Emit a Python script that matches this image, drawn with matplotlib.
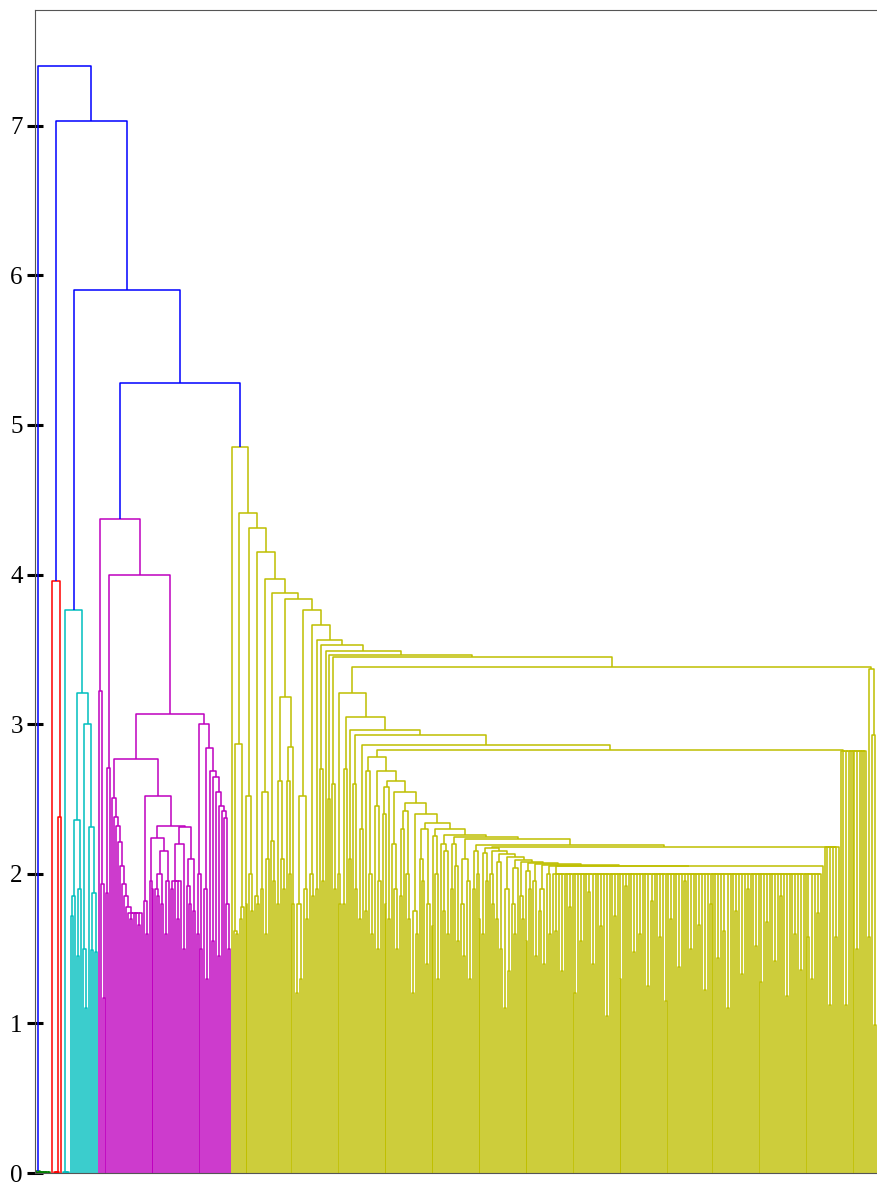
import matplotlib
matplotlib.use("Agg")
import matplotlib.pyplot as plt
from matplotlib.collections import LineCollection

# A node is [height, left, right]; 0 stands for a single leaf.

# links above the colour threshold (drawn blue), top down
root_heights = [7.40, 7.03, 5.90, 5.28]

green_heights = [0.012, 0.010, 0.009, 0.008, 0.007, 0.006, 0.005]

red_tree = [3.96, 0, [2.38, [0.010, [0.008, [0.006, 0, 0], 0], 0], 0]]

cyan_tree = [3.76, [0.010, 0, [0.008, 0, [0.006, 0, 0]]],
             [3.21,
              [2.36, [1.85, [1.72, 0, 0], 0], [1.90, [1.45, 0, 0], 0]],
              [3.00, [1.50, 0, [1.10, 0, 0]],
               [2.31, 0, [1.87, [1.49, 0, 0], [1.48, 0, 0]]]]]]

magenta_stair_heights = [2.51, 2.38, 2.32, 2.21, 2.05, 1.93, 1.85, 1.78]
magenta_comb = [0, 1.70, 0, 0, 1.66, 0]
magenta_right_heights = [3.00, 2.84, 2.69, 2.65, 2.55, 2.45, 2.42, 2.37]
magenta_right_lefts = [[2.0, [1.6, 0, 0], [1.5, 0, 0]], [1.9, 0, [1.3, 0, 0]], 0,
                       [1.55, 0, 0], 0, [1.45, 0, 0], 0, 0]

# yellow: long chain of merges
yellow_spine_heights = [4.85, 4.41, 4.31, 4.15, 3.97, 3.875, 3.835, 3.76,
                        3.66, 3.565, 3.53, 3.49, 3.46, 3.45]
yellow_spine_lefts = [
    0,
    [2.87, [1.62, 0, [1.60, 0, 0]], [1.78, [1.70, 0, 0], 0]],
    [2.52, [1.80, 0, 0], [2.00, 0, [1.75, 0, 0]]],
    [1.85, 0, [1.80, 0, 0]],
    [2.55, [1.90, 0, 0], [2.10, [1.60, 0, 0], 0]],
    [2.22, 0, [1.95, 0, 0]],
    [3.18, [2.62, [1.80, 0, 0], [2.10, 0, [1.90, 0, 0]]],
     [2.85, [2.62, 0, [2.00, 0, 0]], [1.80, 0, 0]]],
    [2.52, [1.80, [1.20, 0, 0], [1.30, 0, 0]], [1.90, 0, [1.70, 0, 0]]],
    [2.00, 0, [1.85, 0, 0]],
    [1.90, 0, 0],
    [2.70, 0, [1.95, 0, 0]],
    0,
    [2.50, 0, 0],
    [2.60, 0, [1.90, 0, 0]],
]
yellow_end = [3.37, [1.58, 0, 0], [2.93, 0, [0.99, 0, 0]]]

a_heights = [3.21, 3.05, 2.96, 2.93, 2.86]
a_lefts = [[2.00, 0, [1.80, 0, 0]], [2.70, [1.80, 0, 0], 0], [2.10, 0, 0],
           [2.60, 0, [1.90, 0, 0]], [2.30, [1.70, 0, 0], 0]]
block_283 = [0, 0, 1.12, 0, 0, 0, 0, 1.50, 0, 0, 0, 0]

b_heights = [2.78, 2.69, 2.62, 2.55, 2.47, 2.40, 2.34, 2.30, 2.26, 2.245, 2.23, 2.19]
b_lefts = [
    [2.69, [1.75, 0, 0], [2.00, 0, [1.60, 0, 0]]],
    [2.45, 0, [1.95, [1.50, 0, 0], 0]],
    [2.58, [2.40, 0, [1.80, 0, 0]], [1.70, 0, 0]],
    [2.20, 0, [1.90, 0, [1.50, 0, 0]]],
    [2.42, [2.30, [1.85, 0, 0], 0], [2.00, 0, [1.70, 0, 0]]],
    [1.75, [1.20, 0, 0], [1.60, 0, 0]],
    [2.30, [2.10, 0, [1.95, 0, 0]], [1.80, [1.40, 0, 0], 0]],
    [2.25, [1.65, 0, 0], [2.00, 0, [1.30, 0, 0]]],
    [2.20, 0, [2.15, [1.75, 0, 0], [1.60, 0, 0]]],
    [2.20, [1.90, 0, 0], [2.05, 0, [1.55, 0, 0]]],
    [2.10, [1.80, 0, [1.45, 0, 0]], [1.95, 0, [1.30, 0, 0]]],
    [2.15, [1.90, 0, 0], [2.00, 0, [1.70, 0, 0]]],
]
block_218 = [0, 0, 1.12, 0, 1.58, 0]

c_heights = [2.17, 2.15, 2.13, 2.11, 2.09, 2.08, 2.07, 2.065, 2.06, 2.055]
c_lefts = [
    [2.14, [1.60, 0, 0], [1.95, 0, 0]],
    [2.00, 0, [1.80, 0, 0]],
    [2.08, [1.70, 0, 0], [1.50, 0, 0]],
    [1.90, [1.10, 0, 0], [1.35, 0, 0]],
    [2.04, [1.80, 0, [1.60, 0, 0]], 0],
    [1.85, 0, [1.70, 0, 0]],
    [2.02, [1.55, 0, 0], [1.90, 0, 0]],
    [1.95, 0, [1.45, 0, 0]],
    [1.90, [1.75, 0, 0], [1.40, 0, 0]],
    [2.00, 0, [1.60, 0, 0]],
]
block_200 = [0, 1.62, 0, 1.35, 0, 0, 1.78, 0, 1.20, 0, 1.55, 0, 0, 1.88, 1.40,
             0, 0, 1.65, 0, 1.05, 0, 0, 1.72, 0, 1.30, 0, 1.92, 0, 0, 1.48,
             0, 1.60, 0, 0, 1.25, 1.82, 0, 0, 1.58, 0, 1.15, 0, 1.70, 0, 0,
             1.38, 0, 1.95, 0, 1.50, 0, 0, 1.66, 0, 1.22, 0, 1.80, 0, 0, 1.44,
             0, 1.62, 1.10, 0, 0, 1.75, 0, 1.33, 0, 1.90, 0, 0, 1.52, 0, 1.28,
             0, 1.68, 0, 0, 1.42, 0, 1.85, 0, 1.18, 0, 0, 1.60, 0, 1.36, 0,
             0, 1.58, 1.30, 0, 1.74, 0]


def part(p):
    return [p, 0, 0] if p > 0 else 0


def rchain(heights, lefts, last):
    node = last
    for h, l in zip(heights[::-1], lefts[::-1]):
        node = [h, l, node]
    return node


def rcomb(top, parts):
    return rchain([top] * (len(parts) - 1), [part(p) for p in parts[:-1]], part(parts[-1]))


def lcomb(top, parts):
    node = part(parts[0])
    for p in parts[1:]:
        node = [top, node, part(p)]
    return node


green_tree = rchain(green_heights, [0] * len(green_heights), 0)

magenta_tree = [4.37,
                [3.22, 0, [1.93, 0, [1.17, 0, 0]]],
                [4.00,
                 [2.71, [1.87, 0, 0], 0],
                 [3.07,
                  [2.77,
                   rchain(magenta_stair_heights, [0] * len(magenta_stair_heights),
                          rcomb(1.74, magenta_comb)),
                   [2.52, [1.82, 0, [1.60, 0, 0]],
                    [2.32,
                     [2.24, [1.95, 0, [1.90, 0, 0]],
                      [2.15, [2.00, [1.90, 0, [1.85, 0, 0]], [1.80, 0, 0]],
                       [1.95, [1.60, 0, 0], 0]]],
                     [2.31, [2.20, rcomb(1.95, [1.9, 0, 1.7, 0]), [1.5, 0, 0]],
                      [2.10, [1.92, 0, [1.8, 0, 0]], [1.75, 0, 0]]]]]],
                  rchain(magenta_right_heights, magenta_right_lefts,
                         [1.8, 0, [1.5, 0, 0]])]]]

chain_c = rchain(c_heights, c_lefts, [2.05, rcomb(2.00, block_200), 0])
chain_b = rchain(b_heights, b_lefts, [2.18, chain_c, lcomb(2.18, block_218)])
chain_a = rchain(a_heights, a_lefts, [2.83, chain_b, rcomb(2.82, block_283)])
yellow_tree = rchain(yellow_spine_heights, yellow_spine_lefts,
                     [3.38, chain_a, yellow_end])

full_tree = rchain(root_heights, [green_tree, red_tree, cyan_tree, magenta_tree], yellow_tree)
cluster_colors = {id(green_tree): 'g', id(red_tree): 'r', id(cyan_tree): 'c',
                  id(magenta_tree): 'm', id(yellow_tree): 'y'}

segments = {}
counter = [0]


def layout(node, color):
    color = cluster_colors.get(id(node), color)
    if node == 0:
        x = 10 * counter[0] + 5
        counter[0] += 1
        return x, 0.0
    h, left, right = node
    xl, hl = layout(left, color)
    xr, hr = layout(right, color)
    segments.setdefault(color, []).append([(xl, hl), (xl, h), (xr, h), (xr, hr)])
    return (xl + xr) / 2, h


layout(full_tree, 'b')
n_leaves = counter[0]

fig = plt.figure(figsize=(8.77, 11.83), dpi=100)
ax = fig.add_axes([35 / 877, 10 / 1183, 842 / 877, 1163 / 1183])

for color, segs in segments.items():
    ax.add_collection(LineCollection(segs, colors=color, linewidths=1.1))

ax.set_xlim(0, 10 * n_leaves)
ax.set_ylim(0, 7.774)
ax.set_xticks([])
ax.set_yticks(range(8))
ax.tick_params(axis='y', direction='inout', length=11.5, width=2.2, color='black', pad=3)
for lab in ax.get_yticklabels():
    lab.set_fontfamily('Liberation Serif')
    lab.set_fontsize(18)
for side in ['left', 'top', 'bottom']:
    ax.spines[side].set_color('#555555')
    ax.spines[side].set_linewidth(0.8)
ax.spines['right'].set_visible(False)

fig.savefig('out.png', dpi=100)
